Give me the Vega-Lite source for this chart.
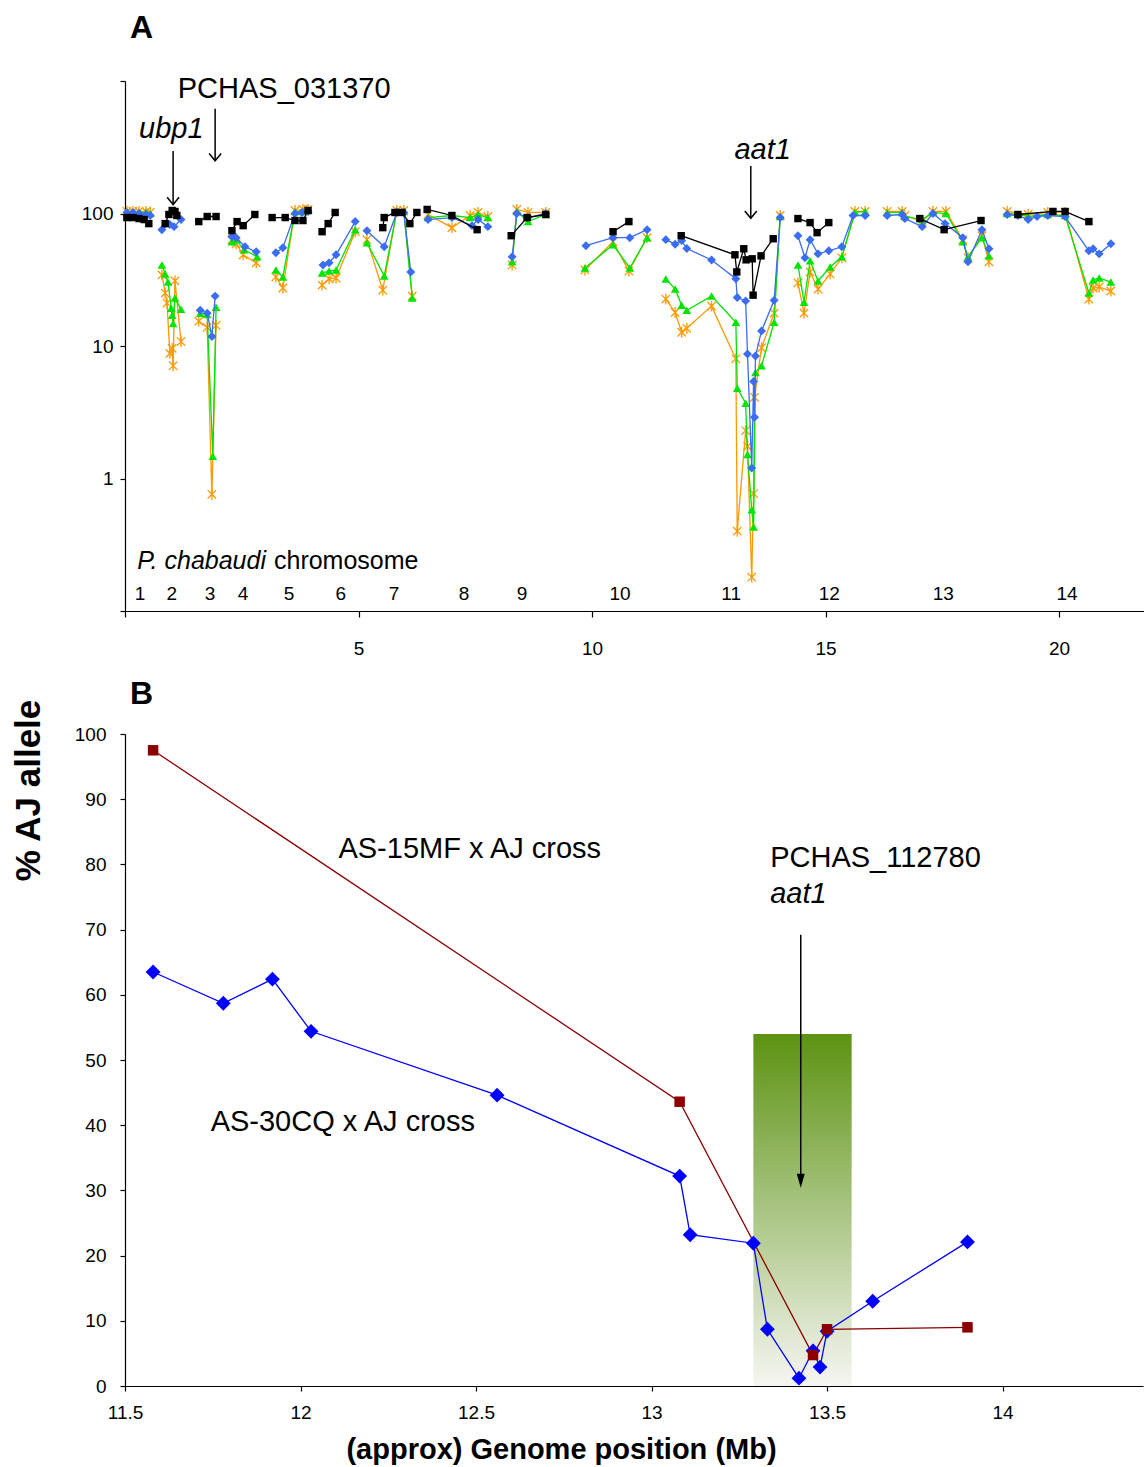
{
"$schema":"https://vega.github.io/schema/vega-lite/v6.json",
"padding":{"left":11,"top":11,"right":0,"bottom":5},
"config":{"font":"Liberation Sans","view":{"stroke":null},
 "axis":{"grid":false,"domainColor":"#000","tickColor":"#000","labelColor":"#000","titleColor":"#000","domainWidth":1.2,"tickWidth":1.2,"labelFont":"Liberation Sans","titleFont":"Liberation Sans","labelFlush":false},
 "title":{"color":"#000","font":"Liberation Sans"}},
"datasets":{
"a":[
{"s":"K","c":1,"x":0.04,"y":93.2},{"s":"K","c":1,"x":0.17,"y":93.2},{"s":"K","c":1,"x":0.30,"y":91.6},{"s":"K","c":1,"x":0.41,"y":90.0},{"s":"K","c":1,"x":0.51,"y":83.9},
{"s":"B","c":1,"x":0.04,"y":101.8},{"s":"B","c":1,"x":0.17,"y":101.8},{"s":"B","c":1,"x":0.30,"y":100},{"s":"B","c":1,"x":0.45,"y":98.3},{"s":"B","c":1,"x":0.54,"y":96.6},
{"s":"G","c":1,"x":0.06,"y":101.8},{"s":"G","c":1,"x":0.19,"y":101.8},{"s":"G","c":1,"x":0.32,"y":101.8},{"s":"G","c":1,"x":0.45,"y":101.8},{"s":"G","c":1,"x":0.54,"y":100},
{"s":"O","c":1,"x":0.04,"y":103.6},{"s":"O","c":1,"x":0.17,"y":103.6},{"s":"O","c":1,"x":0.30,"y":103.6},{"s":"O","c":1,"x":0.45,"y":103.6},{"s":"O","c":1,"x":0.54,"y":101.8},
{"s":"K","c":2,"x":0.86,"y":83.9},{"s":"K","c":2,"x":0.94,"y":98.3},{"s":"K","c":2,"x":1.01,"y":105.4},{"s":"K","c":2,"x":1.07,"y":103.6},{"s":"K","c":2,"x":1.11,"y":96.6},
{"s":"B","c":2,"x":0.79,"y":75.5},{"s":"B","c":2,"x":0.96,"y":82.5},{"s":"B","c":2,"x":1.05,"y":79.6},{"s":"B","c":2,"x":1.20,"y":90.0},
{"s":"G","c":2,"x":0.79,"y":40.9},{"s":"G","c":2,"x":0.86,"y":35.0},{"s":"G","c":2,"x":0.92,"y":30.4},{"s":"G","c":2,"x":0.99,"y":19.3},{"s":"G","c":2,"x":1.01,"y":17.1},{"s":"G","c":2,"x":1.03,"y":14.8},{"s":"G","c":2,"x":1.07,"y":23.0},{"s":"G","c":2,"x":1.20,"y":18.9},
{"s":"O","c":2,"x":0.79,"y":34.4},{"s":"O","c":2,"x":0.86,"y":25.1},{"s":"O","c":2,"x":0.90,"y":21.1},{"s":"O","c":2,"x":0.96,"y":8.8},{"s":"O","c":2,"x":1.01,"y":9.6},{"s":"O","c":2,"x":1.03,"y":7.1},{"s":"O","c":2,"x":1.07,"y":31.0},{"s":"O","c":2,"x":1.20,"y":10.8},
{"s":"K","c":3,"x":1.58,"y":86.9},{"s":"K","c":3,"x":1.76,"y":94.9},{"s":"K","c":3,"x":1.95,"y":94.9},
{"s":"B","c":3,"x":1.61,"y":18.6},{"s":"B","c":3,"x":1.76,"y":17.7},{"s":"B","c":3,"x":1.86,"y":11.8},{"s":"B","c":3,"x":1.93,"y":23.8},
{"s":"G","c":3,"x":1.61,"y":17.7},{"s":"G","c":3,"x":1.76,"y":17.3},{"s":"G","c":3,"x":1.88,"y":1.47},{"s":"G","c":3,"x":1.95,"y":19.6},
{"s":"O","c":3,"x":1.58,"y":15.4},{"s":"O","c":3,"x":1.76,"y":13.8},{"s":"O","c":3,"x":1.86,"y":0.76},{"s":"O","c":3,"x":1.95,"y":14.3},
{"s":"K","c":4,"x":2.29,"y":74.2},{"s":"K","c":4,"x":2.40,"y":86.9},{"s":"K","c":4,"x":2.53,"y":81.0},{"s":"K","c":4,"x":2.78,"y":98.3},
{"s":"B","c":4,"x":2.29,"y":66.8},{"s":"B","c":4,"x":2.38,"y":65.7},{"s":"B","c":4,"x":2.57,"y":56.1},{"s":"B","c":4,"x":2.81,"y":51.4},
{"s":"G","c":4,"x":2.29,"y":61.2},{"s":"G","c":4,"x":2.38,"y":63.4},{"s":"G","c":4,"x":2.55,"y":53.2},{"s":"G","c":4,"x":2.83,"y":47.1},
{"s":"O","c":4,"x":2.29,"y":63.4},{"s":"O","c":4,"x":2.38,"y":59.1},{"s":"O","c":4,"x":2.53,"y":48.8},{"s":"O","c":4,"x":2.81,"y":42.4},
{"s":"K","c":5,"x":3.15,"y":93.2},{"s":"K","c":5,"x":3.43,"y":93.2},{"s":"K","c":5,"x":3.64,"y":88.5},{"s":"K","c":5,"x":3.81,"y":88.5},{"s":"K","c":5,"x":3.92,"y":105.4},
{"s":"B","c":5,"x":3.23,"y":50.5},{"s":"B","c":5,"x":3.38,"y":55.2},{"s":"B","c":5,"x":3.64,"y":100},{"s":"B","c":5,"x":3.79,"y":101.8},{"s":"B","c":5,"x":3.92,"y":103.6},
{"s":"G","c":5,"x":3.23,"y":37.5},{"s":"G","c":5,"x":3.38,"y":33.2},{"s":"G","c":5,"x":3.64,"y":103.6},{"s":"G","c":5,"x":3.81,"y":103.6},{"s":"G","c":5,"x":3.92,"y":105.4},
{"s":"O","c":5,"x":3.23,"y":33.2},{"s":"O","c":5,"x":3.38,"y":27.4},{"s":"O","c":5,"x":3.64,"y":105.4},{"s":"O","c":5,"x":3.81,"y":107.3},{"s":"O","c":5,"x":3.92,"y":107.3},
{"s":"K","c":6,"x":4.22,"y":72.9},{"s":"K","c":6,"x":4.35,"y":83.9},{"s":"K","c":6,"x":4.50,"y":101.8},
{"s":"B","c":6,"x":4.24,"y":40.9},{"s":"B","c":6,"x":4.37,"y":42.4},{"s":"B","c":6,"x":4.52,"y":48.8},{"s":"B","c":6,"x":4.93,"y":86.9},
{"s":"G","c":6,"x":4.22,"y":35.6},{"s":"G","c":6,"x":4.37,"y":36.8},{"s":"G","c":6,"x":4.52,"y":37.5},{"s":"G","c":6,"x":4.93,"y":75.5},
{"s":"O","c":6,"x":4.22,"y":28.8},{"s":"O","c":6,"x":4.37,"y":32.1},{"s":"O","c":6,"x":4.52,"y":32.6},{"s":"O","c":6,"x":4.93,"y":72.9},
{"s":"K","c":7,"x":5.52,"y":78.2},{"s":"K","c":7,"x":5.55,"y":93.2},{"s":"K","c":7,"x":5.78,"y":101.8},{"s":"K","c":7,"x":5.93,"y":101.8},{"s":"K","c":7,"x":6.10,"y":83.9},{"s":"K","c":7,"x":6.25,"y":101.8},
{"s":"B","c":7,"x":5.18,"y":74.2},{"s":"B","c":7,"x":5.55,"y":56.1},{"s":"B","c":7,"x":5.82,"y":101.8},{"s":"B","c":7,"x":5.97,"y":101.8},{"s":"B","c":7,"x":6.12,"y":36.2},
{"s":"G","c":7,"x":5.18,"y":60.2},{"s":"G","c":7,"x":5.55,"y":33.8},{"s":"G","c":7,"x":5.82,"y":103.6},{"s":"G","c":7,"x":5.97,"y":103.6},{"s":"G","c":7,"x":6.15,"y":23.0},
{"s":"O","c":7,"x":5.18,"y":63.4},{"s":"O","c":7,"x":5.52,"y":26.4},{"s":"O","c":7,"x":5.82,"y":105.4},{"s":"O","c":7,"x":5.97,"y":105.4},{"s":"O","c":7,"x":6.15,"y":23.8},
{"s":"K","c":8,"x":6.47,"y":107.3},{"s":"K","c":8,"x":7.00,"y":96.6},{"s":"K","c":8,"x":7.54,"y":75.5},
{"s":"B","c":8,"x":6.49,"y":90.0},{"s":"B","c":8,"x":7.00,"y":93.2},{"s":"B","c":8,"x":7.43,"y":81.0},{"s":"B","c":8,"x":7.56,"y":90.0},{"s":"B","c":8,"x":7.77,"y":79.6},
{"s":"G","c":8,"x":6.49,"y":93.2},{"s":"G","c":8,"x":7.00,"y":96.6},{"s":"G","c":8,"x":7.39,"y":93.2},{"s":"G","c":8,"x":7.56,"y":98.3},{"s":"G","c":8,"x":7.77,"y":93.2},
{"s":"O","c":8,"x":6.49,"y":98.3},{"s":"O","c":8,"x":7.00,"y":78.2},{"s":"O","c":8,"x":7.39,"y":96.6},{"s":"O","c":8,"x":7.56,"y":101.8},{"s":"O","c":8,"x":7.77,"y":94.9},
{"s":"K","c":9,"x":8.27,"y":68.0},{"s":"K","c":9,"x":8.61,"y":93.2},{"s":"K","c":9,"x":9.01,"y":98.3},
{"s":"B","c":9,"x":8.29,"y":47.1},{"s":"B","c":9,"x":8.39,"y":100},{"s":"B","c":9,"x":8.63,"y":93.2},{"s":"B","c":9,"x":9.01,"y":100},
{"s":"G","c":9,"x":8.29,"y":43.2},{"s":"G","c":9,"x":8.39,"y":103.6},{"s":"G","c":9,"x":8.63,"y":86.9},{"s":"G","c":9,"x":9.01,"y":98.3},
{"s":"O","c":9,"x":8.29,"y":40.9},{"s":"O","c":9,"x":8.39,"y":107.3},{"s":"O","c":9,"x":8.63,"y":101.8},{"s":"O","c":9,"x":9.01,"y":101.8},
{"s":"K","c":10,"x":10.45,"y":72.9},{"s":"K","c":10,"x":10.79,"y":86.9},
{"s":"B","c":10,"x":9.87,"y":57.1},{"s":"B","c":10,"x":10.45,"y":65.7},{"s":"B","c":10,"x":10.81,"y":65.7},{"s":"B","c":10,"x":11.18,"y":75.5},
{"s":"G","c":10,"x":9.85,"y":38.8},{"s":"G","c":10,"x":10.45,"y":58.1},{"s":"G","c":10,"x":10.81,"y":38.8},{"s":"G","c":10,"x":11.18,"y":65.7},
{"s":"O","c":10,"x":9.85,"y":37.5},{"s":"O","c":10,"x":10.45,"y":61.2},{"s":"O","c":10,"x":10.79,"y":36.8},{"s":"O","c":10,"x":11.18,"y":65.7},
{"s":"K","c":11,"x":11.91,"y":68.0},{"s":"K","c":11,"x":13.06,"y":48.8},{"s":"K","c":11,"x":13.10,"y":36.2},{"s":"K","c":11,"x":13.25,"y":54.2},{"s":"K","c":11,"x":13.30,"y":44.7},{"s":"K","c":11,"x":13.43,"y":45.5},{"s":"K","c":11,"x":13.45,"y":24.2},{"s":"K","c":11,"x":13.62,"y":47.9},{"s":"K","c":11,"x":13.88,"y":64.5},
{"s":"B","c":11,"x":11.58,"y":63.5},{"s":"B","c":11,"x":11.78,"y":58.7},{"s":"B","c":11,"x":11.92,"y":62.4},{"s":"B","c":11,"x":12.03,"y":54.4},{"s":"B","c":11,"x":12.56,"y":44.6},{"s":"B","c":11,"x":13.08,"y":32.2},{"s":"B","c":11,"x":13.11,"y":23.2},{"s":"B","c":11,"x":13.29,"y":21.9},{"s":"B","c":11,"x":13.33,"y":8.7},{"s":"B","c":11,"x":13.42,"y":1.2},{"s":"B","c":11,"x":13.46,"y":5.4},{"s":"B","c":11,"x":13.48,"y":2.9},{"s":"B","c":11,"x":13.50,"y":8.4},{"s":"B","c":11,"x":13.63,"y":13.0},{"s":"B","c":11,"x":13.90,"y":22.1},{"s":"B","c":11,"x":14.03,"y":93.2},
{"s":"G","c":11,"x":11.58,"y":32.1},{"s":"G","c":11,"x":11.78,"y":26.9},{"s":"G","c":11,"x":11.92,"y":20.3},{"s":"G","c":11,"x":12.03,"y":18.6},{"s":"G","c":11,"x":12.56,"y":23.8},{"s":"G","c":11,"x":13.08,"y":15.1},{"s":"G","c":11,"x":13.11,"y":4.8},{"s":"G","c":11,"x":13.29,"y":3.7},{"s":"G","c":11,"x":13.33,"y":1.52},{"s":"G","c":11,"x":13.42,"y":0.58},{"s":"G","c":11,"x":13.46,"y":0.43},{"s":"G","c":11,"x":13.50,"y":6.3},{"s":"G","c":11,"x":13.63,"y":7.1},{"s":"G","c":11,"x":13.90,"y":15.1},{"s":"G","c":11,"x":14.03,"y":94.9},
{"s":"O","c":11,"x":11.58,"y":22.6},{"s":"O","c":11,"x":11.78,"y":17.9},{"s":"O","c":11,"x":11.92,"y":12.7},{"s":"O","c":11,"x":12.03,"y":13.6},{"s":"O","c":11,"x":12.56,"y":20.0},{"s":"O","c":11,"x":13.08,"y":8.0},{"s":"O","c":11,"x":13.11,"y":0.40},{"s":"O","c":11,"x":13.29,"y":2.3},{"s":"O","c":11,"x":13.33,"y":1.75},{"s":"O","c":11,"x":13.42,"y":0.18},{"s":"O","c":11,"x":13.46,"y":0.77},{"s":"O","c":11,"x":13.48,"y":4.1},{"s":"O","c":11,"x":13.63,"y":9.7},{"s":"O","c":11,"x":13.90,"y":17.7},{"s":"O","c":11,"x":14.03,"y":96.6},
{"s":"K","c":12,"x":14.41,"y":91.6},{"s":"K","c":12,"x":14.67,"y":85.4},{"s":"K","c":12,"x":14.82,"y":71.7},{"s":"K","c":12,"x":15.07,"y":85.4},
{"s":"B","c":12,"x":14.41,"y":68.0},{"s":"B","c":12,"x":14.56,"y":46.3},{"s":"B","c":12,"x":14.67,"y":63.4},{"s":"B","c":12,"x":14.84,"y":49.6},{"s":"B","c":12,"x":15.07,"y":52.3},{"s":"B","c":12,"x":15.35,"y":56.1},{"s":"B","c":12,"x":15.59,"y":96.6},{"s":"B","c":12,"x":15.85,"y":96.6},
{"s":"G","c":12,"x":14.41,"y":40.9},{"s":"G","c":12,"x":14.54,"y":21.4},{"s":"G","c":12,"x":14.67,"y":44.0},{"s":"G","c":12,"x":14.84,"y":31.0},{"s":"G","c":12,"x":15.10,"y":39.5},{"s":"G","c":12,"x":15.35,"y":47.1},{"s":"G","c":12,"x":15.63,"y":101.8},{"s":"G","c":12,"x":15.85,"y":103.6},
{"s":"O","c":12,"x":14.41,"y":29.9},{"s":"O","c":12,"x":14.54,"y":17.7},{"s":"O","c":12,"x":14.67,"y":36.2},{"s":"O","c":12,"x":14.84,"y":26.9},{"s":"O","c":12,"x":15.10,"y":35.0},{"s":"O","c":12,"x":15.35,"y":46.3},{"s":"O","c":12,"x":15.63,"y":103.6},{"s":"O","c":12,"x":15.85,"y":103.6},
{"s":"K","c":13,"x":17.02,"y":91.6},{"s":"K","c":13,"x":17.54,"y":75.5},{"s":"K","c":13,"x":18.33,"y":88.5},
{"s":"B","c":13,"x":16.32,"y":96.6},{"s":"B","c":13,"x":16.64,"y":98.3},{"s":"B","c":13,"x":16.70,"y":91.6},{"s":"B","c":13,"x":17.07,"y":79.6},{"s":"B","c":13,"x":17.30,"y":100},{"s":"B","c":13,"x":17.56,"y":83.9},{"s":"B","c":13,"x":17.94,"y":65.7},{"s":"B","c":13,"x":18.05,"y":43.2},{"s":"B","c":13,"x":18.35,"y":75.5},{"s":"B","c":13,"x":18.50,"y":54.2},
{"s":"G","c":13,"x":16.32,"y":101.8},{"s":"G","c":13,"x":16.64,"y":101.8},{"s":"G","c":13,"x":16.70,"y":94.9},{"s":"G","c":13,"x":17.07,"y":90.0},{"s":"G","c":13,"x":17.30,"y":101.8},{"s":"G","c":13,"x":17.58,"y":100},{"s":"G","c":13,"x":17.94,"y":61.2},{"s":"G","c":13,"x":18.05,"y":47.1},{"s":"G","c":13,"x":18.35,"y":65.7},{"s":"G","c":13,"x":18.50,"y":47.9},
{"s":"O","c":13,"x":16.32,"y":103.6},{"s":"O","c":13,"x":16.64,"y":103.6},{"s":"O","c":13,"x":16.70,"y":96.6},{"s":"O","c":13,"x":17.07,"y":86.9},{"s":"O","c":13,"x":17.30,"y":103.6},{"s":"O","c":13,"x":17.58,"y":103.6},{"s":"O","c":13,"x":17.94,"y":63.4},{"s":"O","c":13,"x":18.05,"y":46.3},{"s":"O","c":13,"x":18.35,"y":68.0},{"s":"O","c":13,"x":18.50,"y":43.2},
{"s":"K","c":14,"x":19.12,"y":98.3},{"s":"K","c":14,"x":19.87,"y":103.6},{"s":"K","c":14,"x":20.13,"y":103.6},{"s":"K","c":14,"x":20.64,"y":86.9},
{"s":"B","c":14,"x":18.89,"y":98.3},{"s":"B","c":14,"x":19.12,"y":96.6},{"s":"B","c":14,"x":19.34,"y":90.0},{"s":"B","c":14,"x":19.53,"y":94.9},{"s":"B","c":14,"x":19.76,"y":96.6},{"s":"B","c":14,"x":20.13,"y":94.9},{"s":"B","c":14,"x":20.64,"y":52.3},{"s":"B","c":14,"x":20.73,"y":54.2},{"s":"B","c":14,"x":20.86,"y":49.6},{"s":"B","c":14,"x":21.11,"y":59.1},
{"s":"G","c":14,"x":18.89,"y":100},{"s":"G","c":14,"x":19.12,"y":98.3},{"s":"G","c":14,"x":19.34,"y":94.9},{"s":"G","c":14,"x":19.76,"y":98.3},{"s":"G","c":14,"x":20.13,"y":96.6},{"s":"G","c":14,"x":20.64,"y":25.1},{"s":"G","c":14,"x":20.73,"y":31.5},{"s":"G","c":14,"x":20.86,"y":32.6},{"s":"G","c":14,"x":21.11,"y":30.4},
{"s":"O","c":14,"x":18.89,"y":103.6},{"s":"O","c":14,"x":19.34,"y":98.3},{"s":"O","c":14,"x":19.76,"y":101.8},{"s":"O","c":14,"x":20.13,"y":101.8},{"s":"O","c":14,"x":20.64,"y":22.6},{"s":"O","c":14,"x":20.73,"y":27.4},{"s":"O","c":14,"x":20.86,"y":27.9},{"s":"O","c":14,"x":21.11,"y":26.0}
],
"b":[
{"s":"R","x":11.58,"y":97.5},{"s":"R","x":13.08,"y":43.6},{"s":"R","x":13.46,"y":4.75},{"s":"R","x":13.50,"y":8.7},{"s":"R","x":13.90,"y":9.0},
{"s":"B","x":11.58,"y":63.5},{"s":"B","x":11.78,"y":58.7},{"s":"B","x":11.92,"y":62.4},{"s":"B","x":12.03,"y":54.4},{"s":"B","x":12.56,"y":44.6},{"s":"B","x":13.08,"y":32.2},{"s":"B","x":13.11,"y":23.2},{"s":"B","x":13.29,"y":21.9},{"s":"B","x":13.33,"y":8.7},{"s":"B","x":13.42,"y":1.2},{"s":"B","x":13.46,"y":5.4},{"s":"B","x":13.48,"y":2.9},{"s":"B","x":13.50,"y":8.4},{"s":"B","x":13.63,"y":13.0},{"s":"B","x":13.90,"y":22.1}
]},
"spacing":19,
"vconcat":[
{
 "width":1019,"height":530,
 "title":{"text":"A","anchor":"start","frame":"group","fontSize":32,"fontWeight":"bold","dx":5,"offset":30},
 "layer":[
  {"data":{"name":"a"},"transform":[{"filter":"datum.s=='O'"}],"mark":{"type":"line","strokeWidth":1.3,"color":"#ff9900"},
   "encoding":{
    "x":{"field":"x","type":"quantitative","scale":{"domain":[0,21.82],"nice":false,"zero":false},"axis":{"values":[0,5,10,15,20],"labelExpr":"datum.value==0?'':datum.label","tickSize":6,"labelPadding":22,"labelFontSize":19,"title":null}},
    "y":{"field":"y","type":"quantitative","scale":{"type":"log","domain":[0.1,1000],"nice":false},"axis":{"values":[0.1,1,10,100,1000],"labelExpr":"(datum.value==1||datum.value==10||datum.value==100)?format(datum.value,'d'):''","tickSize":5,"labelPadding":7,"labelFontSize":19,"title":null}},
    "detail":{"field":"c","type":"nominal"}}},
  {"data":{"name":"a"},"transform":[{"filter":"datum.s=='O'"}],"mark":{"type":"point","shape":"M-1,-1L1,1M-1,1L1,-1M0,-1.3L0,1.3","size":70,"filled":false,"stroke":"#ff9900","strokeWidth":1.3,"opacity":1},
   "encoding":{"x":{"field":"x","type":"quantitative"},"y":{"field":"y","type":"quantitative"}}},
  {"data":{"name":"a"},"transform":[{"filter":"datum.s=='G'"}],"mark":{"type":"line","strokeWidth":1.3,"color":"#00e400"},
   "encoding":{"x":{"field":"x","type":"quantitative"},"y":{"field":"y","type":"quantitative"},"detail":{"field":"c","type":"nominal"}}},
  {"data":{"name":"a"},"transform":[{"filter":"datum.s=='G'"}],"mark":{"type":"point","shape":"triangle-up","size":75,"filled":true,"color":"#00e400","opacity":1},
   "encoding":{"x":{"field":"x","type":"quantitative"},"y":{"field":"y","type":"quantitative"}}},
  {"data":{"name":"a"},"transform":[{"filter":"datum.s=='B'"}],"mark":{"type":"line","strokeWidth":1.3,"color":"#3a6df0"},
   "encoding":{"x":{"field":"x","type":"quantitative"},"y":{"field":"y","type":"quantitative"},"detail":{"field":"c","type":"nominal"}}},
  {"data":{"name":"a"},"transform":[{"filter":"datum.s=='B'"}],"mark":{"type":"point","shape":"diamond","size":80,"filled":true,"color":"#3a6df0","opacity":1},
   "encoding":{"x":{"field":"x","type":"quantitative"},"y":{"field":"y","type":"quantitative"}}},
  {"data":{"name":"a"},"transform":[{"filter":"datum.s=='K'"}],"mark":{"type":"line","strokeWidth":1.3,"color":"#000000"},
   "encoding":{"x":{"field":"x","type":"quantitative"},"y":{"field":"y","type":"quantitative"},"detail":{"field":"c","type":"nominal"}}},
  {"data":{"name":"a"},"transform":[{"filter":"datum.s=='K'"}],"mark":{"type":"point","shape":"square","size":55,"filled":true,"color":"#000000","opacity":1},
   "encoding":{"x":{"field":"x","type":"quantitative"},"y":{"field":"y","type":"quantitative"}}},
  {"data":{"values":[{"x":1.03,"y":296,"y2":117},{"x":1.93,"y":618,"y2":250},{"x":13.40,"y":228,"y2":92}]},
   "mark":{"type":"rule","color":"#000","strokeWidth":1.5},
   "encoding":{"x":{"field":"x","type":"quantitative"},"y":{"field":"y","type":"quantitative"},"y2":{"field":"y2"}}},
  {"data":{"values":[{"x":1.03,"y":117},{"x":1.93,"y":250},{"x":13.40,"y":92}]},
   "mark":{"type":"point","shape":"M-1,-1.2L0,0L1,-1.2","size":144,"filled":false,"stroke":"#000","strokeWidth":1.5,"opacity":1},
   "encoding":{"x":{"field":"x","type":"quantitative"},"y":{"field":"y","type":"quantitative"}}},
  {"data":{"values":[{"x":1.13,"y":871,"t":"PCHAS_031370"}]},
   "mark":{"type":"text","align":"left","baseline":"middle","fontSize":29,"color":"#000"},
   "encoding":{"x":{"field":"x","type":"quantitative"},"y":{"field":"y","type":"quantitative"},"text":{"field":"t"}}},
  {"data":{"values":[{"x":0.30,"y":434,"t":"ubp1"},{"x":13.05,"y":301,"t":"aat1"}]},
   "mark":{"type":"text","align":"left","baseline":"middle","fontSize":29,"fontStyle":"italic","color":"#000"},
   "encoding":{"x":{"field":"x","type":"quantitative"},"y":{"field":"y","type":"quantitative"},"text":{"field":"t"}}},
  {"data":{"values":[{"x":0.26,"y":0.239,"t":"P. chabaudi"}]},
   "mark":{"type":"text","align":"left","baseline":"middle","fontSize":25,"fontStyle":"italic","color":"#000"},
   "encoding":{"x":{"field":"x","type":"quantitative"},"y":{"field":"y","type":"quantitative"},"text":{"field":"t"}}},
  {"data":{"values":[{"x":3.19,"y":0.239,"t":"chromosome"}]},
   "mark":{"type":"text","align":"left","baseline":"middle","fontSize":25,"color":"#000"},
   "encoding":{"x":{"field":"x","type":"quantitative"},"y":{"field":"y","type":"quantitative"},"text":{"field":"t"}}},
  {"data":{"values":[{"x":0.32,"t":"1"},{"x":1.00,"t":"2"},{"x":1.82,"t":"3"},{"x":2.53,"t":"4"},{"x":3.51,"t":"5"},{"x":4.62,"t":"6"},{"x":5.76,"t":"7"},{"x":7.26,"t":"8"},{"x":8.50,"t":"9"},{"x":10.6,"t":"10"},{"x":12.98,"t":"11"},{"x":15.08,"t":"12"},{"x":17.52,"t":"13"},{"x":20.17,"t":"14"}]},
   "mark":{"type":"text","align":"center","baseline":"middle","fontSize":19,"color":"#000"},
   "encoding":{"x":{"field":"x","type":"quantitative"},"y":{"datum":0.135,"type":"quantitative"},"text":{"field":"t"}}}
 ]
},
{
 "width":1018,"height":652,
 "title":{"text":"B","anchor":"start","frame":"group","fontSize":32,"fontWeight":"bold","dx":5,"offset":-12},
 "layer":[
  {"data":{"values":[{"x1":13.29,"x2":13.57,"y1":0,"y2":54}]},
   "mark":{"type":"rect","fill":{"gradient":"linear","x1":0,"y1":0,"x2":0,"y2":1,"stops":[{"offset":0,"color":"#5c9312"},{"offset":1,"color":"#f6f6f2"}]}},
   "encoding":{
    "x":{"field":"x1","type":"quantitative","scale":{"domain":[11.5,14.4],"nice":false,"zero":false},"axis":{"values":[11.5,12,12.5,13,13.5,14],"format":"~g","labelFlush":false,"tickSize":5,"labelPadding":12,"labelFontSize":19,"title":"(approx) Genome position (Mb)","titleFontSize":29,"titleFontWeight":"bold","titleX":436,"titleY":63,"titleAlign":"center","titleBaseline":"middle"}},
    "x2":{"field":"x2"},
    "y":{"field":"y1","type":"quantitative","scale":{"domain":[0,100],"nice":false},"axis":{"values":[0,10,20,30,40,50,60,70,80,90,100],"tickSize":5,"labelPadding":14,"labelFontSize":19,"title":"% AJ allele","titleFontSize":35,"titleFontWeight":"bold","titleAngle":270,"titleX":-97,"titleY":56,"titleAlign":"center","titleBaseline":"middle"}},
    "y2":{"field":"y2"}}},
  {"data":{"name":"b"},"transform":[{"filter":"datum.s=='B'"}],"mark":{"type":"line","strokeWidth":1.3,"color":"#0000ff"},
   "encoding":{"x":{"field":"x","type":"quantitative"},"y":{"field":"y","type":"quantitative"}}},
  {"data":{"name":"b"},"transform":[{"filter":"datum.s=='R'"}],"mark":{"type":"line","strokeWidth":1.3,"color":"#8b0000"},
   "encoding":{"x":{"field":"x","type":"quantitative"},"y":{"field":"y","type":"quantitative"}}},
  {"data":{"name":"b"},"transform":[{"filter":"datum.s=='B'"}],"mark":{"type":"point","shape":"diamond","size":220,"filled":true,"color":"#0000ff","opacity":1},
   "encoding":{"x":{"field":"x","type":"quantitative"},"y":{"field":"y","type":"quantitative"}}},
  {"data":{"name":"b"},"transform":[{"filter":"datum.s=='R'"}],"mark":{"type":"point","shape":"square","size":110,"filled":true,"color":"#8b0000","opacity":1},
   "encoding":{"x":{"field":"x","type":"quantitative"},"y":{"field":"y","type":"quantitative"}}},
  {"data":{"values":[{"x":13.425,"y":69.2,"y2":31}]},
   "mark":{"type":"rule","color":"#000","strokeWidth":1.5},
   "encoding":{"x":{"field":"x","type":"quantitative"},"y":{"field":"y","type":"quantitative"},"y2":{"field":"y2"}}},
  {"data":{"values":[{"x":13.425,"y":30.4}]},
   "mark":{"type":"point","shape":"M-1,-3.5L0,0L1,-3.5Z","size":64,"filled":true,"color":"#000","opacity":1},
   "encoding":{"x":{"field":"x","type":"quantitative"},"y":{"field":"y","type":"quantitative"}}},
  {"data":{"values":[{"x":12.108,"y":82.4,"t":"AS-15MF x AJ cross"},{"x":11.744,"y":40.5,"t":"AS-30CQ x AJ cross"},{"x":13.338,"y":81.0,"t":"PCHAS_112780"}]},
   "mark":{"type":"text","align":"left","baseline":"middle","fontSize":29,"color":"#000"},
   "encoding":{"x":{"field":"x","type":"quantitative"},"y":{"field":"y","type":"quantitative"},"text":{"field":"t"}}},
  {"data":{"values":[{"x":13.338,"y":75.5,"t":"aat1"}]},
   "mark":{"type":"text","align":"left","baseline":"middle","fontSize":29,"fontStyle":"italic","color":"#000"},
   "encoding":{"x":{"field":"x","type":"quantitative"},"y":{"field":"y","type":"quantitative"},"text":{"field":"t"}}}
 ]
}
]
}
